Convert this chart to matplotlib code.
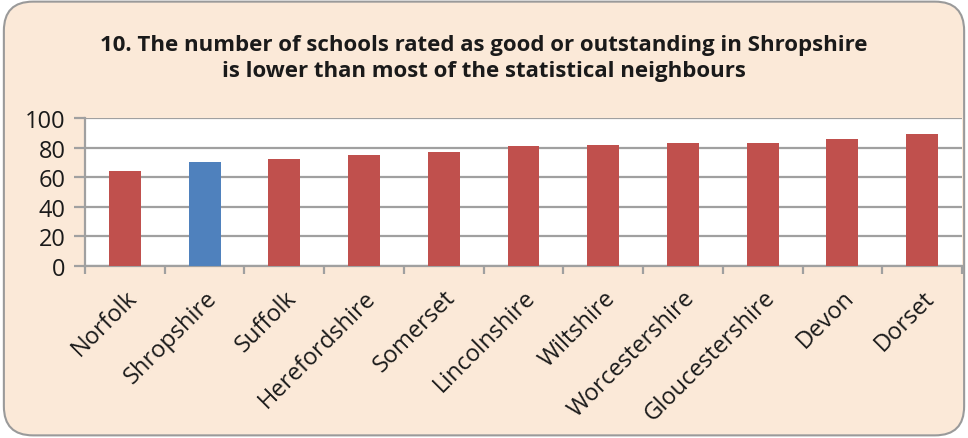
import matplotlib.pyplot as plt
from matplotlib.patches import FancyBboxPatch
import numpy as np

counties = ["Norfolk", "Shropshire", "Suffolk", "Herefordshire", "Somerset",
            "Lincolnshire", "Wiltshire", "Worcestershire", "Gloucestershire",
            "Devon", "Dorset"]
pct_good = [64, 70, 72, 75, 77, 81, 82, 83, 83, 86, 89]
highlight = "Shropshire"

title = ("10. The number of schools rated as good or outstanding in Shropshire\n"
         "is lower than most of the statistical neighbours")

RED = "#C0504D"
BLUE = "#4F81BD"
GRID = "#A0A0A0"
PEACH = "#FBE9D8"

plt.rcParams["font.family"] = ["Open Sans", "DejaVu Sans"]

fig = plt.figure(figsize=(9.68, 4.39), dpi=100)
fig.patch.set_facecolor("white")

# rounded peach frame behind everything
frame = FancyBboxPatch((0.004, 0.006), 0.992, 0.988,
                       boxstyle="round,pad=0,rounding_size=0.03",
                       transform=fig.transFigure, facecolor=PEACH,
                       edgecolor="#9A9A9A", linewidth=1.5,
                       mutation_aspect=968 / 439, zorder=-10)
fig.patches.append(frame)

ax = fig.add_axes([85 / 968, 1 - 267 / 439, (962 - 85) / 968, (267 - 119) / 439])
ax.set_zorder(1)
ax.set_facecolor("white")

x = np.arange(len(counties))
colors = [BLUE if c == highlight else RED for c in counties]
ax.bar(x, pct_good, width=0.4, color=colors, zorder=3)

ax.set_xlim(-0.5, len(counties) - 0.5)
ax.set_ylim(0, 100)
ax.set_yticks(range(0, 101, 20))
ax.yaxis.grid(True, color=GRID, linewidth=1.6, zorder=0)
ax.tick_params(axis="y", length=8, width=1.6, color=GRID, labelsize=17, pad=6,
               labelcolor="#1a1a1a")

ax.set_xticks(x)
ax.set_xticklabels(counties, rotation=45, ha="right", rotation_mode="anchor",
                   fontsize=17, color="#1a1a1a")
ax.tick_params(axis="x", which="major", length=0, pad=14)
ax.set_xticks(np.arange(-0.5, len(counties)), minor=True)
ax.tick_params(axis="x", which="minor", length=6, width=1.6, color=GRID)

for s in ["top", "right"]:
    ax.spines[s].set_visible(False)
for s in ["left", "bottom"]:
    ax.spines[s].set_color(GRID)
    ax.spines[s].set_linewidth(1.6)

fig.text(0.5, 0.867, title, ha="center", va="center", fontsize=16,
         fontweight="bold", color="#1a1a1a", linespacing=1.35)

plt.savefig("out.png", dpi=100, facecolor=fig.get_facecolor())
